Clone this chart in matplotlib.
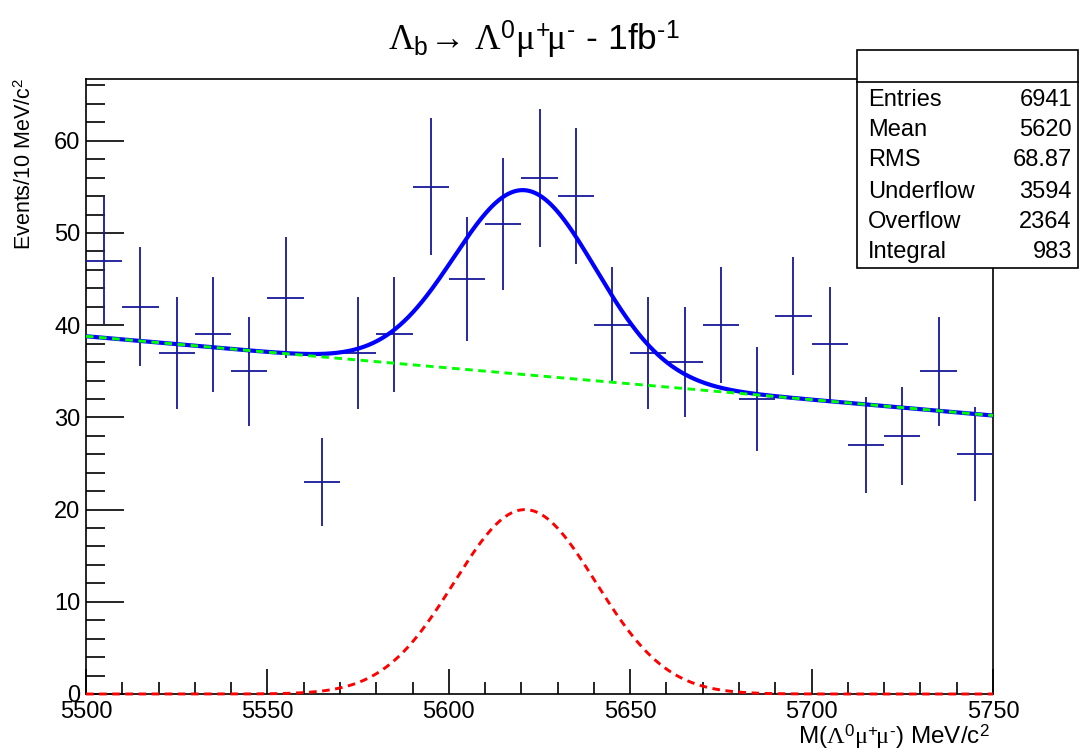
import numpy as np
import matplotlib
matplotlib.use("Agg")
import matplotlib.pyplot as plt
from matplotlib.patches import Rectangle
from matplotlib.ticker import MultipleLocator

plt.rcParams["font.family"] = ["Liberation Sans", "DejaVu Sans"]
plt.rcParams["mathtext.fontset"] = "custom"
plt.rcParams["mathtext.rm"] = "Liberation Sans"
plt.rcParams["mathtext.it"] = "Liberation Serif"   # greek mu in serif, like ROOT's Symbol font
plt.rcParams["mathtext.cal"] = "Liberation Serif"  # used for the capital Lambda
plt.rcParams["mathtext.bf"] = "Liberation Sans:bold"

# histogram: 10 MeV bins from 5500 to 5750
bin_centers = [5505, 5515, 5525, 5535, 5545, 5555, 5565, 5575, 5585, 5595,
               5605, 5615, 5625, 5635, 5645, 5655, 5665, 5675, 5685, 5695,
               5705, 5715, 5725, 5735, 5745]
counts = [47, 42, 37, 39, 35, 43, 23, 37, 39, 55,
          45, 51, 56, 54, 40, 37, 36, 40, 32, 41,
          38, 27, 28, 35, 26]

# fit parameters
bkg_at_5500 = 38.8
bkg_at_5750 = 30.2
sig_amp = 20.0
sig_mean = 5621.0
sig_sigma = 19.5

stats_names = ["Entries", "Mean", "RMS", "Underflow", "Overflow", "Integral"]
stats_values = ["6941", "5620", "68.87", "3594", "2364", "983"]

W, H = 1083, 756
x = np.array(bin_centers, dtype=float)
y = np.array(counts, dtype=float)
yerr = np.sqrt(y)

fig = plt.figure(figsize=(W / 100, H / 100), dpi=100)
ax = fig.add_axes([86 / W, 1 - 694 / H, (993 - 86) / W, (694 - 79) / H])

xf = np.linspace(5500, 5750, 600)
bkg = bkg_at_5500 + (bkg_at_5750 - bkg_at_5500) * (xf - 5500) / 250.0
sig = sig_amp * np.exp(-0.5 * ((xf - sig_mean) / sig_sigma) ** 2)

ax.errorbar(x, y, yerr=yerr, xerr=5, fmt="none", ecolor="#18189a",
            elinewidth=1.3, capsize=0, zorder=3)
ax.plot(xf, bkg + sig, color="#0000ff", lw=3.0, zorder=4)
ax.plot(xf, bkg, color="#00ff00", lw=2.1, ls=(0, (2.6, 1.9)), zorder=5)
ax.plot(xf, sig, color="#ff0000", lw=2.1, ls=(0, (2.6, 1.9)), zorder=5, clip_on=False)

ax.set_xlim(5500, 5750)
ax.set_ylim(0, 66.7)
ax.xaxis.set_major_locator(MultipleLocator(50))
ax.xaxis.set_minor_locator(MultipleLocator(10))
ax.yaxis.set_major_locator(MultipleLocator(10))
ax.yaxis.set_minor_locator(MultipleLocator(2))
ax.tick_params(which="both", direction="in", top=False, right=False, width=1.2)
ax.tick_params(axis="x", which="major", length=18, labelsize=17, pad=5)
ax.tick_params(axis="x", which="minor", length=9)
ax.tick_params(axis="y", which="major", length=27, labelsize=17, pad=4)
ax.tick_params(axis="y", which="minor", length=14)
for s in ax.spines.values():
    s.set_linewidth(1.2)

lam = r"\mathcal{\Lambda}"
mumu = r"\mu^{+}\!\mu^{\text{-}}"
fig.text(990 / W, 1 - 737 / H, r"M($" + lam + r"^0" + mumu + r"$) MeV/c$^2$",
         ha="right", va="center", fontsize=17.5)
fig.text(25 / W, 1 - 78 / H, r"Events/10 MeV/c$^2$", rotation=90,
         ha="center", va="top", fontsize=15.5)

fig.text(534 / W, 1 - 40 / H,
         r"$" + lam + r"_\mathrm{b}\!\rightarrow\," + lam + r"^0" + mumu
         + r"$ - 1fb$^{\text{-}1}$",
         ha="center", va="center", fontsize=25.5)

# stats box
bx0, bx1 = 857 / W, 1078 / W
by0, by1 = 1 - 268 / H, 1 - 50 / H
fig.patches.append(Rectangle((bx0, by0), bx1 - bx0, by1 - by0, transform=fig.transFigure,
                             facecolor="white", edgecolor="black", lw=1.2, zorder=10))
fig.add_artist(plt.Line2D([bx0, bx1], [1 - 82 / H] * 2, color="black", lw=1.2,
                          transform=fig.transFigure, zorder=11))
row_y = [100, 130, 160, 192, 222, 252]
for name, val, ry in zip(stats_names, stats_values, row_y):
    fig.text(868 / W, 1 - ry / H, name, ha="left", va="center", fontsize=17, zorder=12)
    fig.text(1072 / W, 1 - ry / H, val, ha="right", va="center", fontsize=17, zorder=12)

fig.savefig("out.png", dpi=100)
